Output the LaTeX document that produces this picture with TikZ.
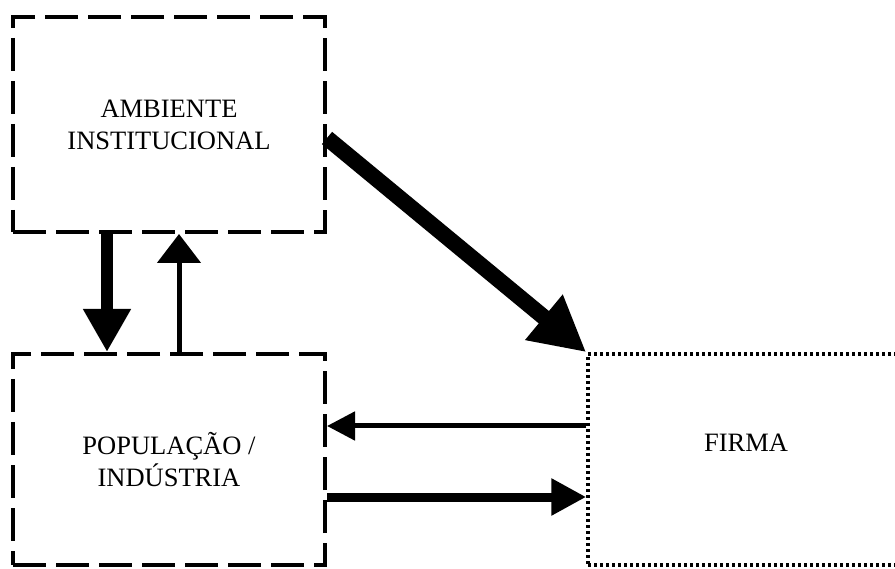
\documentclass[tikz,border=0pt]{standalone}
\usepackage{fontspec}
\setmainfont{Liberation Serif}
\usetikzlibrary{arrows.meta}
\tikzset{
  dashbox/.style={draw,line width=4pt,dash pattern=on 33pt off 10pt,
    minimum width=312pt,inner sep=0pt,align=center,
    font=\fontsize{26.5}{32}\selectfont},
  dotbox/.style={draw,line width=3.5pt,dash pattern=on 3pt off 3pt,
    minimum width=316pt,minimum height=211pt,inner sep=0pt},
  boxlabel/.style={font=\fontsize{26.5}{32}\selectfont}
}

\begin{document}

\begin{tikzpicture}[x=1pt,y=-1pt]
  \useasboundingbox (0,0) rectangle (895,569);
  % caixas
  \node[dashbox,minimum height=215pt] (amb) at (169,124.5) {AMBIENTE\\INSTITUCIONAL};
  \node[dashbox,minimum height=211pt] (pop) at (169,459.5) {POPULAÇÃO /\\INDÚSTRIA};
  \node[dotbox] (firma) at (746,459.5) {};
  \node[boxlabel] (firmalbl) at ([yshift=17pt]firma.center) {FIRMA};
  % setas
  \draw[line width=12pt,-{Triangle[length=43pt,width=45pt]}]
    ([xshift=96pt]amb.south west) -- ([xshift=96pt]pop.north west);
  \draw[line width=5pt,-{Triangle[length=29pt,width=43pt]}]
    ([xshift=168pt]pop.north west) -- ([xshift=168pt]amb.south west);
  \draw[line width=16pt,-{Triangle[length=55pt,width=55pt]}]
    ([yshift=-13.5pt]amb.east) -- (firma.north west);
  \draw[line width=5pt,-{Triangle[length=28pt,width=28pt]}]
    ([yshift=33.5pt]firma.west) -- ([yshift=33.5pt]pop.east);
  \draw[line width=9pt,-{Triangle[length=35pt,width=35pt]}]
    ([yshift=-37.5pt]pop.east) -- ([yshift=-37.5pt]firma.west);
\end{tikzpicture}

\end{document}
